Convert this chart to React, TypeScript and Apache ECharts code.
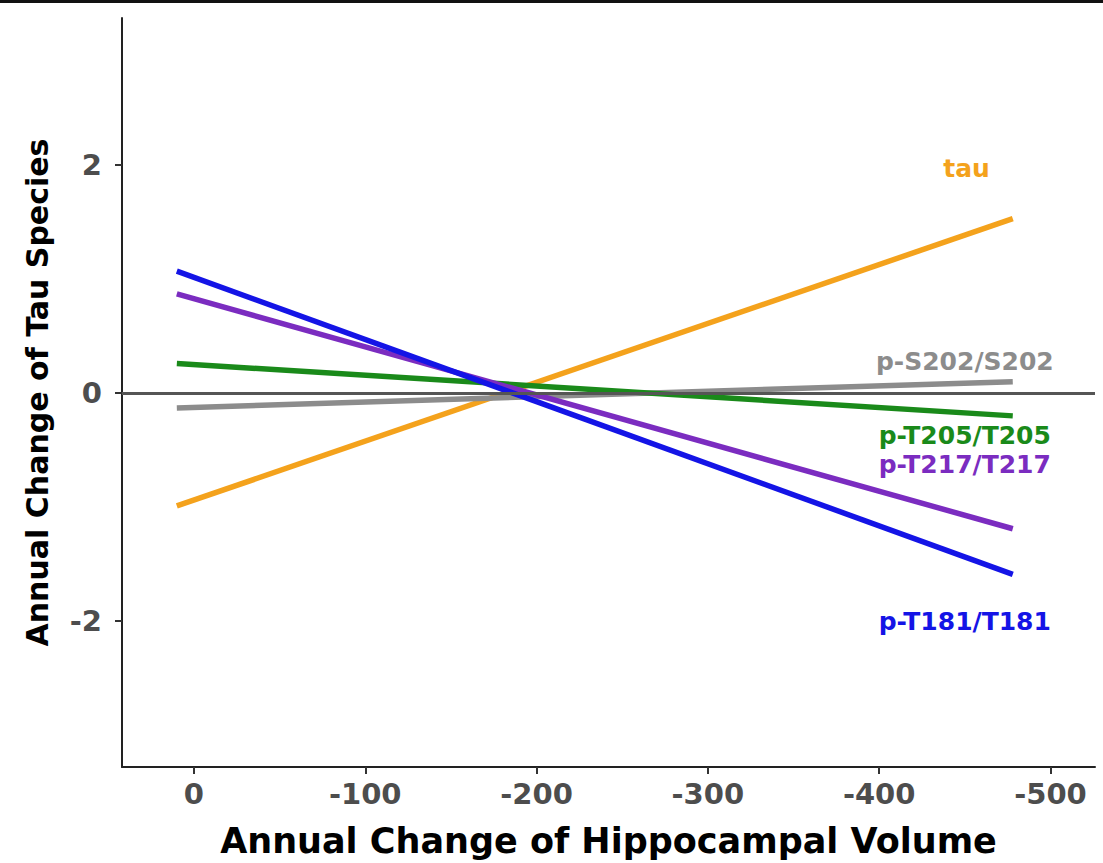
import React, { useEffect, useRef } from "react";
import * as echarts from "echarts";

const xStart = 10;
const xEnd = -478;
const seriesNames = ["tau", "p-S202/S202", "p-T205/T205", "p-T217/T217", "p-T181/T181"];
const seriesColors = ["#F4A21C", "#8C8C8C", "#1A8A1A", "#7B2CC0", "#1414E6"];
const startValues = [-0.99, -0.13, 0.26, 0.87, 1.07];
const endValues = [1.53, 0.1, -0.2, -1.19, -1.59];
// label anchor positions in data space
const labelX = [-451, -450, -450, -450, -450];
const labelY = [1.97, 0.28, -0.37, -0.625, -2.0];
const xTicks = [0, -100, -200, -300, -400, -500];
const yTicks = [-2, 0, 2];

export default function App() {
  const ref = useRef<HTMLDivElement>(null);
  useEffect(() => {
    const chart = echarts.init(ref.current!, undefined, { renderer: "svg" });
    const font = "'DejaVu Sans', sans-serif";
    const series: any[] = seriesNames.map((name, i) => ({
      type: "line",
      name,
      data: [
        [xStart, startValues[i]],
        [xEnd, endValues[i]],
      ],
      symbol: "none",
      lineStyle: { color: seriesColors[i], width: 5.5, cap: "butt" },
      z: 3,
      markPoint: {
        symbol: "circle",
        symbolSize: 0,
        data: [
          {
            coord: [labelX[i], labelY[i]],
            label: {
              show: true,
              formatter: name,
              position: "inside",
              color: seriesColors[i],
              fontFamily: font,
              fontWeight: "bold",
              fontSize: 25,
              lineHeight: 24,
            },
          },
        ],
      },
    }));
    series.push({
      type: "line",
      data: [],
      markLine: {
        silent: true,
        symbol: "none",
        label: { show: false },
        lineStyle: { color: "#555555", width: 3, type: "solid" },
        data: [{ yAxis: 0 }],
      },
      z: 2,
    });
    chart.setOption({
      animation: false,
      backgroundColor: "#ffffff",
      grid: { left: 122, right: 8, top: 18, bottom: 94, containLabel: false },
      xAxis: {
        type: "value",
        inverse: true,
        min: -526,
        max: 42,
        name: "Annual Change of Hippocampal Volume",
        nameLocation: "middle",
        nameGap: 56,
        nameTextStyle: { color: "#000", fontFamily: font, fontWeight: "bold", fontSize: 35 },
        axisLine: { show: true, onZero: false, lineStyle: { color: "#222", width: 2 } },
        axisTick: { show: true, length: 7, lineStyle: { color: "#333", width: 2 }, customValues: xTicks },
        axisLabel: {
          customValues: xTicks,
          color: "#4D4D4D",
          fontFamily: font,
          fontWeight: "bold",
          fontSize: 29,
          margin: 12,
        },
        splitLine: { show: false },
      },
      yAxis: {
        type: "value",
        min: -3.28,
        max: 3.29,
        name: "Annual Change of Tau Species",
        nameLocation: "middle",
        nameGap: 70,
        nameTextStyle: { color: "#000", fontFamily: font, fontWeight: "bold", fontSize: 30 },
        axisLine: { show: true, onZero: false, lineStyle: { color: "#222", width: 2 } },
        axisTick: { show: true, length: 7, lineStyle: { color: "#333", width: 2 }, customValues: yTicks },
        axisLabel: {
          customValues: yTicks,
          color: "#4D4D4D",
          fontFamily: font,
          fontWeight: "bold",
          fontSize: 29,
          margin: 20,
        },
        splitLine: { show: false },
      },
      graphic: [
        { type: "rect", left: 0, top: 0, shape: { width: 1103, height: 3 }, style: { fill: "#111" } },
      ],
      series,
    });
    return () => chart.dispose();
  }, []);
  return (
    <div
      ref={ref}
      style={{ position: "fixed", left: 0, top: 0, width: 1103, height: 863, background: "#fff" }}
    />
  );
}
